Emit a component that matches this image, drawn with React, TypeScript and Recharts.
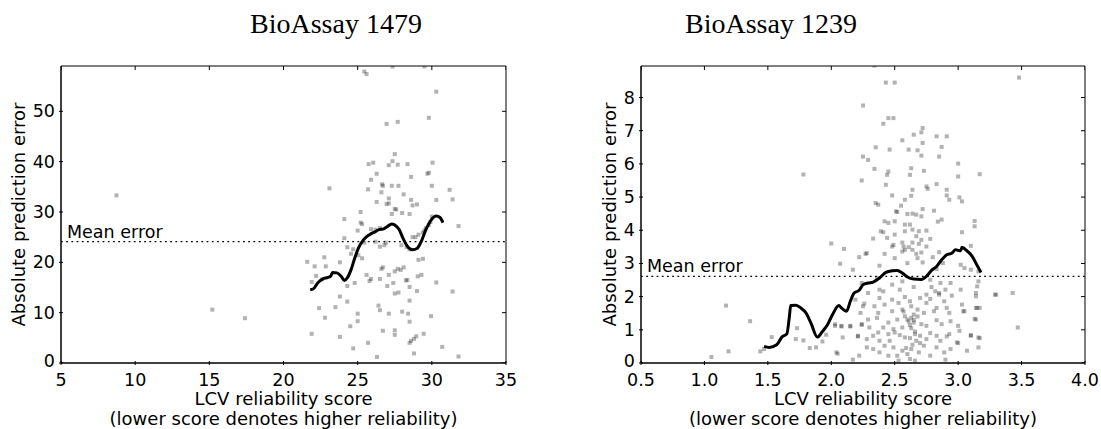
import React from "react";
import { ScatterChart, Scatter, XAxis, YAxis, ReferenceLine, ReferenceArea } from "recharts";

// Two panels: absolute prediction error vs LCV reliability score

const SANS = '"DejaVu Sans", Verdana, sans-serif';
const SERIF = '"Liberation Serif", "Times New Roman", serif';

// ---- BioAssay 1479 ----
const titleLeft = "BioAssay 1479";
const meanLeft = 24.1;
const xTicksLeft = [5, 10, 15, 20, 25, 30, 35];
const yTicksLeft = [0, 10, 20, 30, 40, 50];
const ptsLeft: [number, number][] = [
  [8.74, 33.3], [15.2, 10.6], [17.4, 8.9], [25.45, 57.9], [25.6, 57.4], [27.35, 58.9], [29.5, 58.9],
  [30.3, 53.9], [29.8, 48.7], [26.95, 47.5], [27.7, 47.9], [30.05, 39.8], [25.74, 39.5], [26.05, 39.8],
  [27.5, 41.5], [27.35, 40.1], [27.1, 39.3], [27.7, 39.4], [28.36, 39.5], [29.8, 37.8], [29.7, 37.6],
  [26.28, 37.6], [25.9, 36.4], [28.6, 36.97], [23.1, 34.7], [31.2, 34.4], [30.0, 35.2], [26.7, 35.2],
  [26.65, 35.5], [27.3, 35.2], [27.75, 35.2], [25.7, 34.5], [26.6, 33.9], [28.1, 33.5], [31.4, 32.5],
  [30.3, 32.4], [28.6, 32.4], [27.1, 32.7], [26.28, 32.0], [26.95, 31.6], [27.1, 31.7], [28.7, 31.3],
  [29.0, 31.5], [27.5, 30.6], [27.6, 30.5], [25.2, 30.0], [27.3, 29.6], [28.0, 29.8], [28.5, 29.6],
  [30.0, 29.1], [24.1, 28.6], [25.2, 27.9], [25.3, 27.6], [29.9, 28.0], [29.8, 27.4], [29.6, 26.8],
  [29.5, 26.3], [29.4, 25.9], [31.8, 27.2], [25.0, 26.3], [25.9, 26.6], [26.2, 26.5], [26.5, 26.8],
  [29.1, 25.5], [28.9, 25.0], [24.1, 24.8], [26.9, 23.9], [26.8, 23.4], [26.5, 23.1], [25.45, 23.9],
  [26.2, 24.1], [24.3, 23.0], [27.95, 23.4], [28.3, 23.0], [28.5, 22.6], [28.7, 25.0], [24.7, 22.6],
  [24.55, 21.7], [25.05, 21.4], [25.3, 20.8], [29.1, 20.5], [29.4, 20.7], [21.6, 20.1], [23.8, 20.0],
  [22.75, 21.0], [22.85, 19.2], [26.7, 19.0], [26.6, 18.7], [27.7, 18.7], [27.5, 18.2], [28.1, 19.0],
  [27.9, 18.5], [25.9, 16.7], [25.8, 16.3], [26.5, 16.7], [28.25, 16.4], [28.35, 16.5], [25.6, 17.5],
  [29.05, 17.2], [29.3, 17.5], [27.1, 17.5], [24.3, 15.3], [24.8, 15.9], [27.4, 15.9], [30.3, 16.0],
  [27.75, 14.0], [27.5, 13.8], [27.0, 15.3], [28.5, 15.1], [31.4, 14.2], [23.8, 13.2], [29.0, 14.3],
  [28.5, 12.4], [24.3, 12.2], [26.4, 11.4], [26.5, 10.5], [22.4, 10.9], [23.5, 11.1], [28.0, 10.2],
  [28.4, 9.8], [27.1, 9.8], [25.0, 9.8], [29.95, 9.3], [22.8, 9.0], [28.5, 8.2], [25.0, 8.3],
  [24.5, 7.3], [26.7, 6.4], [27.5, 6.5], [27.5, 5.6], [23.8, 5.2], [21.9, 5.8], [29.45, 5.8],
  [28.95, 5.3], [28.8, 4.8], [28.6, 4.4], [28.5, 4.0], [25.7, 4.0], [24.7, 2.9], [30.7, 3.2],
  [28.8, 1.9], [26.3, 1.2], [31.8, 1.3], [21.9, 16.1], [22.2, 17.3], [22.6, 16.6], [22.1, 19.2],
];
const curveLeft: [number, number][] = [
  [21.8, 14.55], [22.0, 14.7], [22.3, 15.9], [22.65, 16.7], [23.0, 17.0], [23.2, 17.3], [23.3, 18.0],
  [23.6, 17.9], [23.9, 17.2], [24.1, 16.4], [24.3, 16.9], [24.55, 18.5], [24.8, 20.8], [25.05, 22.8],
  [25.4, 24.5], [25.8, 25.5], [26.2, 26.1], [26.45, 26.5], [26.7, 26.6], [27.0, 27.1], [27.3, 27.6],
  [27.6, 27.2], [27.8, 26.5], [28.05, 24.8], [28.4, 23.0], [28.7, 22.5], [29.0, 22.75], [29.25, 23.9],
  [29.6, 26.5], [29.95, 28.4], [30.3, 29.2], [30.55, 28.9], [30.75, 27.9],
];

// ---- BioAssay 1239 ----
const titleRight = "BioAssay 1239";
const meanRight = 2.61;
const xTicksRight = [0.5, 1.0, 1.5, 2.0, 2.5, 3.0, 3.5, 4.0];
const yTicksRight = [0, 1, 2, 3, 4, 5, 6, 7, 8];
const ptsRight: [number, number][] = [
  [2.34, 8.96], [2.43, 8.45], [2.5, 8.45], [3.48, 8.6], [2.25, 7.76], [2.41, 7.21], [2.45, 7.38],
  [2.49, 7.38], [2.72, 7.08], [2.71, 6.95], [2.83, 6.83], [2.65, 6.88], [2.56, 6.71], [2.91, 6.83],
  [2.72, 6.63], [2.87, 6.51], [2.35, 6.5], [2.61, 6.43], [2.68, 6.41], [2.71, 6.25], [2.46, 6.43],
  [2.25, 6.22], [2.29, 6.12], [2.85, 6.22], [3.0, 6.01], [2.63, 5.87], [2.73, 5.79], [2.34, 5.85],
  [2.45, 5.77], [2.44, 5.67], [2.62, 5.67], [3.0, 5.62], [3.17, 5.69], [1.78, 5.68], [2.24, 5.5],
  [2.43, 5.37], [2.83, 5.39], [2.75, 5.32], [2.76, 5.25], [2.64, 5.22], [2.91, 5.22], [2.91, 5.05],
  [2.93, 4.92], [3.01, 4.99], [3.03, 4.87], [2.48, 5.05], [2.58, 4.92], [2.63, 5.04], [2.55, 4.74],
  [2.35, 4.82], [2.37, 4.77], [2.72, 4.64], [2.51, 4.57], [2.52, 4.55], [2.6, 4.49], [2.64, 4.5],
  [2.67, 4.47], [2.71, 4.42], [2.81, 4.59], [2.87, 4.32], [2.84, 4.26], [3.13, 4.28], [3.13, 4.12],
  [2.42, 4.27], [2.45, 4.22], [2.5, 4.27], [2.58, 4.17], [2.62, 4.17], [2.39, 3.97], [2.41, 3.94],
  [2.5, 3.87], [2.58, 3.97], [2.64, 4.02], [2.69, 3.97], [2.75, 3.99], [3.03, 3.94], [2.33, 3.75],
  [2.0, 3.6], [2.44, 3.77], [2.67, 3.82], [2.71, 3.71], [2.78, 3.74], [2.64, 3.63], [2.56, 3.63],
  [2.48, 3.51], [2.49, 3.56], [2.57, 3.51], [2.61, 3.49], [2.69, 3.59], [2.75, 3.51], [3.1, 3.53],
  [2.1, 3.44], [2.42, 3.29], [2.56, 3.36], [2.58, 3.41], [2.64, 3.41], [2.71, 3.33], [2.85, 3.34],
  [2.68, 3.16], [2.72, 3.03], [2.5, 3.16], [2.27, 3.29], [2.28, 3.31], [2.22, 3.19], [2.6, 3.01],
  [2.8, 3.19], [2.67, 3.29], [2.88, 3.01], [3.02, 2.96], [2.07, 2.99], [2.17, 2.81], [2.38, 2.93],
  [2.83, 2.83], [3.05, 2.86], [3.1, 2.81], [3.16, 2.76], [3.29, 2.06], [3.43, 2.11], [3.16, 2.46],
  [3.15, 2.31], [3.02, 2.21], [2.94, 2.41], [2.85, 2.11], [3.14, 2.01], [3.14, 1.66], [3.17, 1.66],
  [3.05, 1.56], [3.13, 1.33], [3.0, 1.12], [3.1, 0.82], [3.17, 0.75], [3.47, 1.07], [3.0, 0.6],
  [2.91, 0.8], [2.9, 0.1],
  [1.055, 0.18], [1.19, 0.35], [1.17, 1.73], [1.36, 1.26], [1.44, 0.35], [1.47, 0.42], [1.53, 0.78],
  [1.73, 1.05], [1.72, 0.72], [1.78, 0.68], [1.83, 0.45], [1.88, 0.47], [1.93, 0.65], [1.96, 0.85],
  [2.03, 1.12], [2.08, 1.1], [2.05, 0.28], [2.17, 0.1], [2.15, 1.1], [2.21, 0.8], [2.19, 1.91],
  [2.23, 1.51], [2.26, 1.79], [2.24, 1.15],
  [2.36, 2.56], [2.56, 2.46], [2.78, 2.51], [2.86, 2.41], [2.38, 2.21], [2.48, 2.36], [2.65, 2.29],
  [2.79, 2.29], [2.82, 2.16], [2.9, 2.21], [2.24, 2.41], [2.29, 2.11], [2.41, 2.16], [2.54, 2.21],
  [2.58, 1.99], [2.7, 1.96], [2.75, 2.06], [2.85, 2.06], [2.95, 2.03], [2.38, 1.96], [2.48, 1.91],
  [2.62, 1.86], [2.78, 1.93], [2.89, 1.86], [2.25, 1.71], [2.34, 1.71], [2.42, 1.76], [2.53, 1.81],
  [2.56, 1.61], [2.63, 1.71], [2.68, 1.61], [2.75, 1.81], [2.83, 1.66], [2.91, 1.66], [3.03, 1.76],
  [3.14, 2.11], [3.15, 1.66], [3.3, 2.06], [2.37, 1.51], [2.48, 1.56], [2.58, 1.41], [2.65, 1.46],
  [2.73, 1.51], [2.81, 1.56], [2.93, 1.51], [2.03, 1.17], [2.08, 1.12], [2.15, 1.12], [2.24, 1.17],
  [2.29, 1.31], [2.36, 1.36], [2.45, 1.22], [2.52, 1.31], [2.6, 1.31], [2.63, 1.36], [2.65, 1.22],
  [2.71, 1.17], [2.75, 1.12], [2.83, 1.29], [2.87, 1.17], [2.94, 1.26], [3.04, 1.56], [3.14, 1.31],
  [2.3, 1.07], [2.41, 1.07], [2.49, 1.02], [2.56, 1.07], [2.62, 1.14], [2.09, 0.77], [2.21, 0.82],
  [2.28, 0.72], [2.33, 0.82], [2.37, 0.92], [2.45, 0.87], [2.5, 0.92], [2.54, 0.84], [2.58, 0.77],
  [2.66, 0.87], [2.7, 0.82], [2.78, 0.9], [2.83, 0.82], [2.93, 0.87], [3.01, 0.97], [3.1, 0.84],
  [3.16, 0.77], [2.38, 0.67], [2.46, 0.67], [2.67, 0.67], [2.75, 0.72], [2.86, 0.67], [2.99, 0.62],
  [2.04, 0.32], [2.28, 0.47], [2.33, 0.42], [2.38, 0.32], [2.42, 0.52], [2.49, 0.47], [2.52, 0.22],
  [2.56, 0.37], [2.6, 0.27], [2.63, 0.42], [2.69, 0.32], [2.73, 0.52], [2.78, 0.22], [2.83, 0.47],
  [2.89, 0.32], [2.94, 0.42], [3.07, 0.37], [3.16, 0.47], [2.45, 0.22], [2.62, 0.12], [2.22, 0.22],
  [2.53, 0.07], [2.66, 0.07], [2.61, 1.25], [2.63, 1.05], [2.66, 0.95], [2.64, 0.55], [2.59, 0.45],
  [2.68, 1.4], [2.57, 1.55], [2.7, 0.6], [2.62, 0.75], [2.65, 1.3],
];
const curveRight: [number, number][] = [
  [1.47, 0.5], [1.51, 0.47], [1.57, 0.55], [1.61, 0.78], [1.65, 0.88], [1.67, 1.41], [1.68, 1.73],
  [1.72, 1.74], [1.76, 1.66], [1.8, 1.51], [1.84, 1.2], [1.89, 0.78], [1.93, 0.95], [1.97, 1.15],
  [2.01, 1.46], [2.06, 1.73], [2.08, 1.66], [2.12, 1.56], [2.15, 1.86], [2.18, 2.11], [2.22, 2.19],
  [2.25, 2.36], [2.29, 2.41], [2.33, 2.44], [2.38, 2.56], [2.43, 2.73], [2.48, 2.78], [2.52, 2.79],
  [2.56, 2.71], [2.6, 2.59], [2.65, 2.53], [2.71, 2.52], [2.75, 2.61], [2.79, 2.79], [2.83, 2.91],
  [2.87, 3.11], [2.91, 3.26], [2.95, 3.31], [2.98, 3.41], [3.02, 3.38], [3.03, 3.49], [3.06, 3.41],
  [3.12, 3.16], [3.14, 3.01], [3.18, 2.73],
];

const xLabel1 = "LCV reliability score";
const xLabel2 = "(lower score denotes higher reliability)";
const yLabel = "Absolute prediction error";

const Dot = (p: any) => (
  <rect x={p.cx - 2} y={p.cy - 2} width={4} height={4} fill="#000" fillOpacity={0.3} />
);

const txt = { fontSize: 17.5, fontFamily: SANS, fill: "#000" };

function Panel(props: {
  pts: [number, number][];
  curve: [number, number][];
  mean: number;
  xDomain: [number, number];
  xTicks: number[];
  yDomain: [number, number];
  yTicks: number[];
  fmt: (v: number) => string;
  width: number;
  left: number;
  right: number;
}) {
  const { pts, curve, mean, xDomain, xTicks, yDomain, yTicks, fmt, width, left, right } = props;
  const data = pts.map(([x, y]) => ({ x, y }));
  const line = curve.map(([x, y]) => ({ x, y }));
  // inner tick marks on top / right edges, drawn from the same tick values
  const topTicks = xTicks.map((v) => ({ x: v, y: yDomain[1] }));
  const rightTicks = yTicks.map((v) => ({ x: xDomain[1], y: v }));
  return (
    <ScatterChart width={width} height={429} margin={{ top: 66, right, bottom: 0, left }}>
      <XAxis
        xAxisId="b" type="number" dataKey="x" domain={xDomain} ticks={xTicks} interval={0}
        allowDataOverflow height={66} tickSize={0} tickLine={false} axisLine={{ stroke: "#000" }}
        tick={(t: any) => (
          <g>
            <line x1={t.x} x2={t.x} y1={t.y} y2={t.y - 4} stroke="#000" />
            <text x={t.x} y={t.y + 20.5} textAnchor="middle" {...txt}>{fmt(t.payload.value)}</text>
          </g>
        )}
      />
      <YAxis
        yAxisId="l" type="number" dataKey="y" domain={yDomain} ticks={yTicks} interval={0}
        allowDataOverflow width={50} tickSize={0} tickLine={false} axisLine={{ stroke: "#000" }}
        tick={(t: any) => (
          <g>
            <line x1={t.x} x2={t.x + 4} y1={t.y} y2={t.y} stroke="#000" />
            <text x={t.x - 4} y={t.y + (t.payload.value === 0 ? 4 : 6)} textAnchor="end" {...txt}>
              {t.payload.value}
            </text>
          </g>
        )}
      />
      <ReferenceArea
        xAxisId="b" yAxisId="l" x1={xDomain[0]} x2={xDomain[1]} y1={yDomain[0]} y2={yDomain[1]}
        fill="none" stroke="#000" strokeWidth={1} fillOpacity={0}
      />
      <ReferenceLine
        xAxisId="b" yAxisId="l" y={mean} stroke="#000" strokeWidth={1.3} strokeDasharray="1.8 3.4"
        label={(p: any) => (
          <text x={p.viewBox.x + 6} y={p.viewBox.y - 4} {...txt}>Mean error</text>
        )}
      />
      <Scatter
        xAxisId="b" yAxisId="l" data={topTicks} isAnimationActive={false}
        shape={(p: any) => <line x1={p.cx} x2={p.cx} y1={p.cy} y2={p.cy + 4} stroke="#000" />}
      />
      <Scatter
        xAxisId="b" yAxisId="l" data={rightTicks} isAnimationActive={false}
        shape={(p: any) => <line x1={p.cx} x2={p.cx - 4} y1={p.cy} y2={p.cy} stroke="#000" />}
      />
      <Scatter xAxisId="b" yAxisId="l" data={data} shape={Dot} isAnimationActive={false} />
      <Scatter
        xAxisId="b" yAxisId="l" data={line} shape={() => <g />}
        line={{ stroke: "#000", strokeWidth: 3 }} lineJointType="monotoneX" isAnimationActive={false}
      />
    </ScatterChart>
  );
}

export default function App() {
  return (
    <div style={{ position: "absolute", left: 0, top: 0, width: 1101, height: 429, background: "#fff" }}>
      <div style={{ position: "absolute", left: 0, top: 0 }}>
        <Panel
          pts={ptsLeft} curve={curveLeft} mean={meanLeft} xDomain={[5, 35]} xTicks={xTicksLeft}
          yDomain={[0, 59]} yTicks={yTicksLeft} fmt={(v) => String(v)} width={540} left={11} right={34}
        />
      </div>
      <div style={{ position: "absolute", left: 560, top: 0 }}>
        <Panel
          pts={ptsRight} curve={curveRight} mean={meanRight} xDomain={[0.5, 4]} xTicks={xTicksRight}
          yDomain={[0, 8.95]} yTicks={yTicksRight} fmt={(v) => v.toFixed(1)} width={541} left={31} right={16}
        />
      </div>
      <svg width={1101} height={429} style={{ position: "absolute", left: 0, top: 0, pointerEvents: "none" }}>
        <text x={250} y={33} fontFamily={SERIF} fontSize={28} fill="#000">{titleLeft}</text>
        <text x={685} y={33} fontFamily={SERIF} fontSize={28} fill="#000">{titleRight}</text>
        {[18, 609].map((cx) => (
          <text key={cx} x={cx} y={214.5} transform={`rotate(-90 ${cx} 214.5)`} textAnchor="middle"
            dominantBaseline="central" fontFamily={SANS} fontSize={18} fill="#000">{yLabel}</text>
        ))}
        {[283.5, 863].map((cx) => (
          <g key={cx}>
            <text x={cx} y={404.5} textAnchor="middle" fontFamily={SANS} fontSize={18} fill="#000">{xLabel1}</text>
            <text x={cx} y={425} textAnchor="middle" fontFamily={SANS} fontSize={18} fill="#000">{xLabel2}</text>
          </g>
        ))}
      </svg>
    </div>
  );
}
